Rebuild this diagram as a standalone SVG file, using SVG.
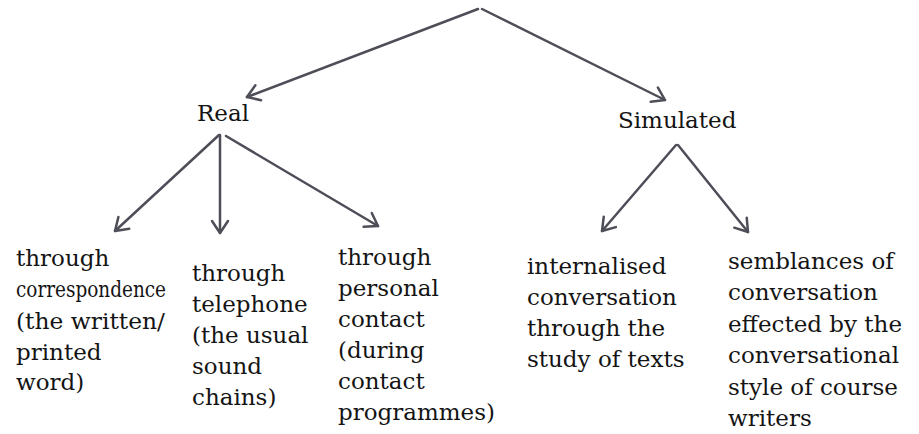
<svg xmlns="http://www.w3.org/2000/svg" width="919" height="434" viewBox="0 0 919 434">
<defs>
<marker id="arr" markerUnits="userSpaceOnUse" markerWidth="20" markerHeight="20" viewBox="-14 -10 16 20" refX="0" refY="0" orient="auto">
<path d="M-12,-8 L0,0 L-12,8" fill="none" stroke="#4e4e58" stroke-width="2.5" stroke-linecap="round" stroke-linejoin="round"/>
</marker>
<style>
.t{font-family:"DejaVu Serif","Liberation Serif",serif;font-size:23px;fill:#141414}
.c{fill:none;stroke:#4e4e58;stroke-width:2.5;stroke-linecap:round;marker-end:url(#arr)}
</style>
</defs>
<rect width="919" height="434" fill="#ffffff"/>
<g id="connectors">
<line class="c" x1="478" y1="9" x2="247" y2="97"/>
<line class="c" x1="482" y1="9" x2="665" y2="100"/>
<line class="c" x1="219" y1="135" x2="115" y2="231"/>
<line class="c" x1="220" y1="135" x2="220" y2="233"/>
<line class="c" x1="226" y1="136" x2="378" y2="226"/>
<line class="c" x1="676" y1="145" x2="602" y2="231"/>
<line class="c" x1="678" y1="145" x2="748" y2="232"/>
</g>
<g id="real"><text class="t" x="197" y="121">Real</text></g>
<g id="simulated"><text class="t" x="618" y="128">Simulated</text></g>
<g id="correspondence">
<text class="t" x="16" y="266">through</text>
<text class="t" x="16" y="297" textLength="150" lengthAdjust="spacingAndGlyphs">correspondence</text>
<text class="t" x="16" y="329" textLength="149" lengthAdjust="spacingAndGlyphs">(the written/</text>
<text class="t" x="16" y="360">printed</text>
<text class="t" x="16" y="390">word)</text>
</g>
<g id="telephone">
<text class="t" x="192" y="281">through</text>
<text class="t" x="192" y="312">telephone</text>
<text class="t" x="192" y="343">(the usual</text>
<text class="t" x="192" y="374">sound</text>
<text class="t" x="192" y="405">chains)</text>
</g>
<g id="personal">
<text class="t" x="338" y="265">through</text>
<text class="t" x="338" y="296">personal</text>
<text class="t" x="338" y="327">contact</text>
<text class="t" x="338" y="358">(during</text>
<text class="t" x="338" y="389">contact</text>
<text class="t" x="338" y="420">programmes)</text>
</g>
<g id="internalised">
<text class="t" x="527" y="274">internalised</text>
<text class="t" x="527" y="305">conversation</text>
<text class="t" x="527" y="336">through the</text>
<text class="t" x="527" y="367">study of texts</text>
</g>
<g id="semblances">
<text class="t" x="728" y="269">semblances of</text>
<text class="t" x="728" y="300">conversation</text>
<text class="t" x="728" y="332">effected by the</text>
<text class="t" x="728" y="363">conversational</text>
<text class="t" x="728" y="395">style of course</text>
<text class="t" x="728" y="426">writers</text>
</g>
</svg>
